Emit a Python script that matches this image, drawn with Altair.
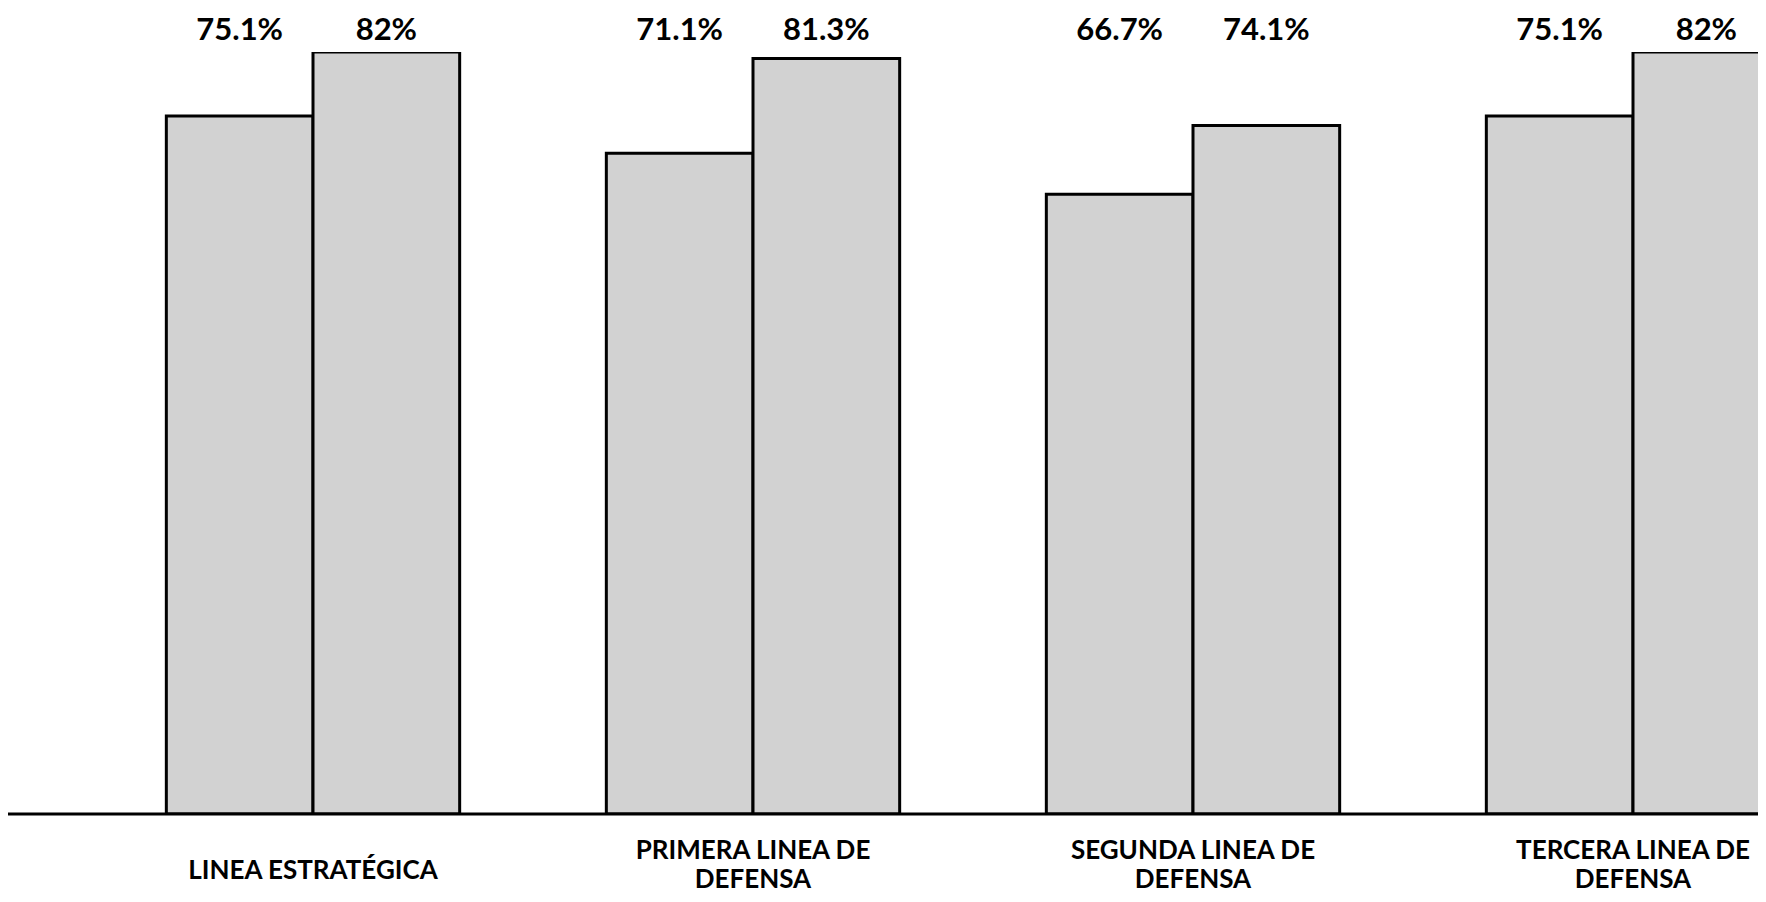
import altair as alt
import pandas as pd

# ---- data ----
groups = [
    "LINEA ESTRATÉGICA",
    "PRIMERA LINEA DE\nDEFENSA",
    "SEGUNDA LINEA DE\nDEFENSA",
    "TERCERA LINEA DE\nDEFENSA",
]
series_names = ["Serie 1", "Serie 2"]
values_1 = [75.1, 71.1, 66.7, 75.1]
values_2 = [82.0, 81.3, 74.1, 82.0]

rows = []
for g, a, b in zip(groups, values_1, values_2):
    rows.append({"group": g, "series": series_names[0], "value": a, "label": f"{a:g}%"})
    rows.append({"group": g, "series": series_names[1], "value": b, "label": f"{b:g}%"})
df = pd.DataFrame(rows)
df_groups = pd.DataFrame({"group": groups})
df_base = pd.DataFrame({"v": [0]})

W, H = 1750, 762
FONT = "Lato"

x_enc = alt.X(
    "group:N",
    sort=groups,
    scale=alt.Scale(range=[85, 1845], paddingInner=0, paddingOuter=0),
    axis=None,
)
xoff_enc = alt.XOffset(
    "series:N",
    sort=series_names,
    scale=alt.Scale(paddingInner=0, paddingOuter=0.5),
)
y_enc = alt.Y("value:Q", scale=alt.Scale(domain=[0, 82], nice=False, zero=True), axis=None)

bars = alt.Chart(df).mark_bar(
    fill="#d2d2d2", stroke="black", strokeWidth=3, clip=True
).encode(x=x_enc, xOffset=xoff_enc, y=y_enc)

pct = alt.Chart(df).mark_text(
    font=FONT, fontSize=31, fontWeight="bold", color="black",
    align="center", baseline="middle"
).encode(x=x_enc, xOffset=xoff_enc, y=alt.value(-21), text="label:N")

cat_style = dict(
    font=FONT, fontSize=26, fontWeight="bold", color="black",
    align="center", baseline="middle", lineBreak="\n", lineHeight=29,
)
cat_single = alt.Chart(df_groups).transform_filter(
    "indexof(datum.group, '\\n') < 0"
).mark_text(**cat_style).encode(
    x=alt.X("group:N", sort=groups), y=alt.value(H + 57), text="group:N"
)
cat_multi = alt.Chart(df_groups).transform_filter(
    "indexof(datum.group, '\\n') >= 0"
).mark_text(**cat_style).encode(
    x=alt.X("group:N", sort=groups), y=alt.value(H + 37), text="group:N"
)

base = alt.Chart(df_base).mark_rule(color="black", strokeWidth=3).encode(
    y=alt.Y("v:Q"), x=alt.value(-1), x2=alt.value(W)
)

chart = alt.layer(bars, base, pct, cat_single, cat_multi).properties(
    width=W,
    height=H,
    padding={"left": 0, "right": 0, "top": 44, "bottom": 80},
    autosize=alt.AutoSizeParams(type="none"),
    background="white",
).configure_view(stroke=None)

chart.save("out.html", embed_options={"renderer": "svg", "actions": False})
